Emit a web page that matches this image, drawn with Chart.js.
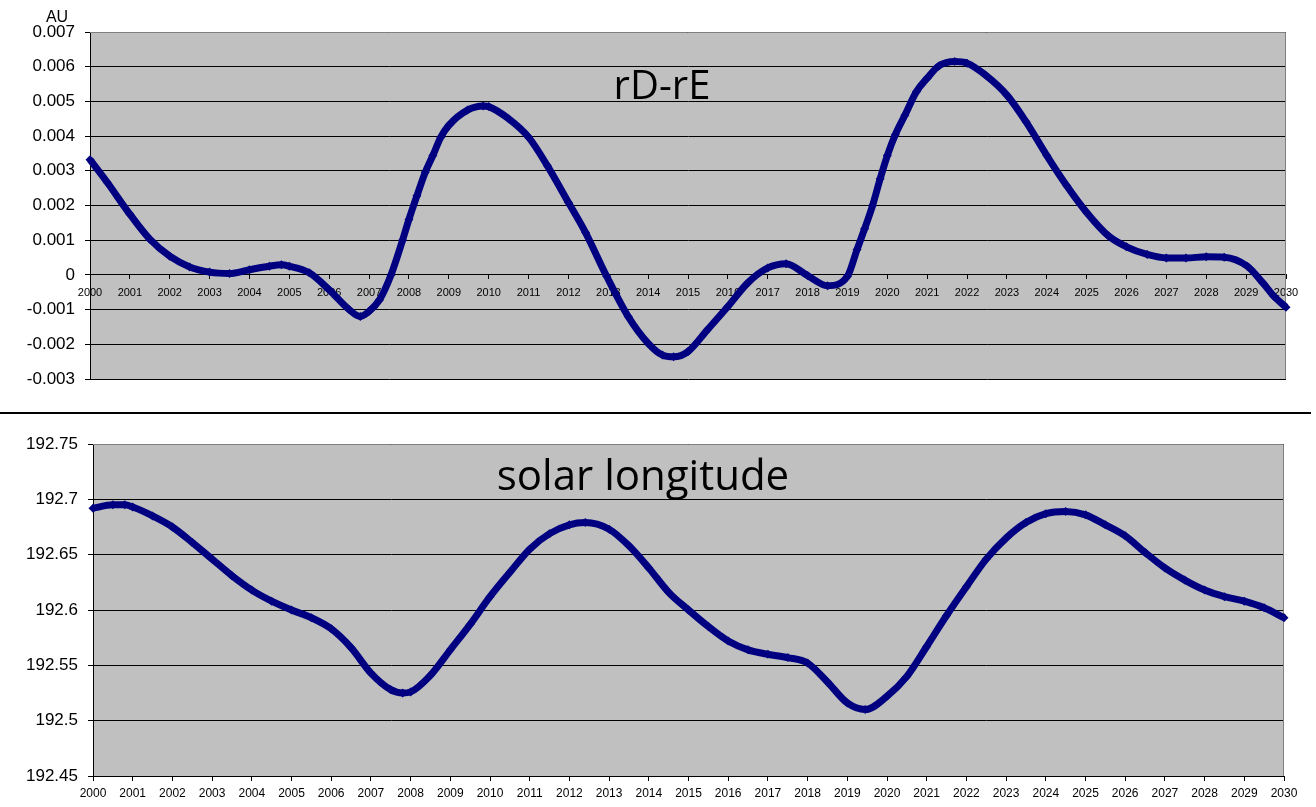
<!DOCTYPE html>
<html>
<head>
<meta charset="utf-8">
<script src="https://cdn.jsdelivr.net/npm/chart.js@4.4.1/dist/chart.umd.min.js"></script>
<style>
  html, body { margin: 0; padding: 0; background: #ffffff; }
  #wrap { position: relative; width: 1316px; height: 807px; overflow: hidden; }
  #c1 { position: absolute; left: 0; top: 0; }
  #c2 { position: absolute; left: 0; top: 414px; }
  #sep { position: absolute; left: 0; top: 412px; width: 1311px; height: 2px; background: #000; }
</style>
</head>
<body>
<div id="wrap">
  <canvas id="c1" width="1316" height="400"></canvas>
  <div id="sep"></div>
  <canvas id="c2" width="1316" height="393"></canvas>
</div>
<script>
// ---------- data ----------
const yearTicks = [2000,2001,2002,2003,2004,2005,2006,2007,2008,2009,2010,2011,2012,2013,2014,2015,
                   2016,2017,2018,2019,2020,2021,2022,2023,2024,2025,2026,2027,2028,2029,2030];

const rdTicks = [-0.003,-0.002,-0.001,0,0.001,0.002,0.003,0.004,0.005,0.006,0.007];
const slTicks = [192.45,192.5,192.55,192.6,192.65,192.7,192.75];

const rdYears = [2000.0,2000.43,2001.0,2001.5,2002.0,2002.5,2003.0,2003.5,2004.0,2004.5,2004.8,2005.0,
  2005.5,2006.0,2006.5,2006.78,2007.0,2007.26,2007.55,2007.84,2008.0,2008.2,2008.41,2008.6,2008.8,
  2009.0,2009.47,2009.86,2010.0,2010.5,2011.0,2011.47,2012.0,2012.43,2012.96,2013.5,2014.0,2014.36,
  2014.64,2015.0,2015.48,2016.0,2016.5,2017.0,2017.46,2018.0,2018.5,2019.0,2019.24,2019.43,2019.63,
  2019.82,2020.0,2020.2,2020.44,2020.73,2021.0,2021.3,2021.69,2022.0,2022.46,2023.0,2023.48,2024.0,
  2024.5,2025.0,2025.55,2026.0,2026.52,2027.0,2027.49,2028.0,2028.45,2029.03,2029.42,2029.7,2030.0];
const rdValues = [0.00332,0.00267,0.00175,0.00103,0.00054,0.00023,0.00008,0.00004,0.00015,0.00025,0.00029,0.00025,
  0.00006,-0.00043,-0.0010,-0.0012,-0.00105,-0.00072,0.0,0.0010,0.0016,0.00228,0.00296,0.00344,0.00397,
  0.00431,0.00475,0.00487,0.00485,0.0045,0.00397,0.00315,0.00209,0.00122,-0.00004,-0.0012,-0.00197,-0.00231,
  -0.00236,-0.00221,-0.00159,-0.00091,-0.00023,0.0002,0.00032,-0.00002,-0.00031,-0.00004,0.00073,0.00133,0.0020,
  0.00277,0.00344,0.00404,0.0046,0.00528,0.00567,0.00603,0.00615,0.0061,0.00576,0.00518,0.00441,0.00344,
  0.00257,0.0018,0.00112,0.00081,0.00059,0.00049,0.00049,0.00052,0.00051,0.00025,-0.00023,-0.00062,-0.00093];

const slYears = [2000.0,2000.5,2000.8,2001.0,2001.5,2002.0,2002.5,2003.0,2003.5,2004.0,2004.5,2005.0,2005.5,
  2006.0,2006.5,2007.0,2007.5,2007.8,2008.0,2008.5,2009.0,2009.5,2010.0,2010.5,2011.0,2011.5,2012.0,2012.4,
  2013.0,2013.5,2014.0,2014.5,2015.0,2015.5,2016.0,2016.5,2017.0,2017.5,2018.0,2018.5,2019.0,2019.45,2020.0,
  2020.5,2021.0,2021.5,2022.0,2022.5,2023.0,2023.5,2024.0,2024.5,2025.0,2025.5,2026.0,2026.5,2027.0,2027.5,
  2028.0,2028.5,2029.0,2029.5,2030.0];
const slValues = [192.692,192.695,192.695,192.693,192.685,192.675,192.661,192.646,192.631,192.618,192.608,192.600,192.593,
  192.583,192.566,192.543,192.528,192.525,192.526,192.541,192.564,192.587,192.612,192.634,192.655,192.669,192.677,192.679,
  192.673,192.658,192.638,192.616,192.600,192.585,192.572,192.564,192.560,192.557,192.552,192.535,192.516,192.510,192.522,
  192.540,192.567,192.595,192.621,192.646,192.665,192.679,192.687,192.689,192.686,192.677,192.667,192.652,192.638,192.627,
  192.618,192.612,192.608,192.602,192.593];

// ---------- helpers ----------
const FONT = "'Liberation Sans', Arial, sans-serif";
const TITLE_FONT = "'Open Sans', 'Noto Sans', sans-serif";
const NAVY = '#000080';

const plotBg = {
  id: 'plotBg',
  beforeDraw(chart) {
    const {ctx, chartArea: a} = chart;
    ctx.save();
    ctx.fillStyle = '#c0c0c0';
    ctx.fillRect(a.left, a.top, a.right - a.left, a.bottom - a.top);
    ctx.restore();
  },
  beforeDatasetsDraw(chart) {
    const {ctx, chartArea: a} = chart;
    ctx.save();
    ctx.strokeStyle = '#808080';
    ctx.lineWidth = 1;
    ctx.beginPath();
    ctx.moveTo(a.left, a.top + 0.5);
    ctx.lineTo(a.right - 0.5, a.top + 0.5);
    ctx.lineTo(a.right - 0.5, a.bottom);
    ctx.stroke();
    ctx.restore();
  }
};

function textPlugin(items) {
  return {
    id: 'texts',
    afterDraw(chart) {
      const ctx = chart.ctx;
      ctx.save();
      ctx.fillStyle = '#000';
      ctx.textBaseline = 'alphabetic';
      items.forEach(t => {
        ctx.font = t.font;
        ctx.textAlign = t.align || 'center';
        ctx.fillText(t.text, t.x, t.y);
      });
      ctx.restore();
    }
  };
}

function series(xs, ys) { return xs.map((x, i) => ({x: x, y: ys[i]})); }

function datasetCfg(data) {
  return {
    data: data,
    borderColor: NAVY,
    backgroundColor: NAVY,
    borderWidth: 7,
    pointStyle: 'rectRot',
    pointRadius: 4.5,
    pointBorderWidth: 0,
    pointBackgroundColor: NAVY,
    cubicInterpolationMode: 'monotone',
    fill: false,
    clip: false
  };
}

// ---------- top chart: rD-rE ----------
new Chart(document.getElementById('c1'), {
  type: 'line',
  data: { datasets: [datasetCfg(series(rdYears, rdValues))] },
  options: {
    responsive: false,
    animation: false,
    layout: { padding: { top: 32, right: 30, bottom: 21, left: 0 } },
    plugins: { legend: { display: false }, tooltip: { enabled: false }, title: { display: false } },
    scales: {
      x: {
        type: 'linear',
        position: { y: 0 },
        min: 2000, max: 2030,
        afterBuildTicks: s => { s.ticks = yearTicks.map(v => ({value: v})); },
        grid: { drawOnChartArea: false, drawTicks: true, tickLength: 4, color: '#000', tickColor: '#000' },
        border: { display: true, color: '#000', width: 1 },
        ticks: { autoSkip: false, maxRotation: 0, padding: 7, color: '#000',
                 font: { family: FONT, size: 11 }, callback: v => String(v) }
      },
      y: {
        type: 'linear',
        min: -0.003, max: 0.007,
        afterBuildTicks: s => { s.ticks = rdTicks.map(v => ({value: v})); },
        afterFit: s => { s.width = 90; },
        grid: { color: '#000', lineWidth: 1, tickLength: 5, tickColor: '#000' },
        border: { display: true, color: '#000', width: 1 },
        ticks: { padding: 10, color: '#000', font: { family: FONT, size: 17 },
                 callback: v => (Math.abs(v) < 1e-12 ? '0' : Number(v).toFixed(3)) }
      }
    }
  },
  plugins: [plotBg, textPlugin([
    { text: 'rD-rE', x: 662, y: 99, font: "40px " + TITLE_FONT },
    { text: 'AU', x: 57, y: 22, font: "16px " + FONT }
  ])]
});

// ---------- bottom chart: solar longitude ----------
new Chart(document.getElementById('c2'), {
  type: 'line',
  data: { datasets: [datasetCfg(series(slYears, slValues))] },
  options: {
    responsive: false,
    animation: false,
    layout: { padding: { top: 30, right: 32, bottom: 0, left: 0 } },
    plugins: { legend: { display: false }, tooltip: { enabled: false }, title: { display: false } },
    scales: {
      x: {
        type: 'linear',
        position: 'bottom',
        min: 2000, max: 2030,
        afterBuildTicks: s => { s.ticks = yearTicks.map(v => ({value: v})); },
        afterFit: s => { s.height = 31; },
        grid: { drawOnChartArea: false, drawTicks: true, tickLength: 5, color: '#000', tickColor: '#000' },
        border: { display: true, color: '#000', width: 1 },
        ticks: { autoSkip: false, maxRotation: 0, padding: 5, color: '#000',
                 font: { family: FONT, size: 12 }, callback: v => String(v) }
      },
      y: {
        type: 'linear',
        min: 192.45, max: 192.75,
        afterBuildTicks: s => { s.ticks = slTicks.map(v => ({value: v})); },
        afterFit: s => { s.width = 93; },
        grid: { color: '#000', lineWidth: 1, tickLength: 5, tickColor: '#000' },
        border: { display: true, color: '#000', width: 1 },
        ticks: { padding: 10, color: '#000', font: { family: FONT, size: 17 },
                 callback: v => String(Math.round(v * 100) / 100) }
      }
    }
  },
  plugins: [plotBg, textPlugin([
    { text: 'solar longitude', x: 643, y: 490 - 414, font: "42px " + TITLE_FONT }
  ])]
});
</script>
</body>
</html>
